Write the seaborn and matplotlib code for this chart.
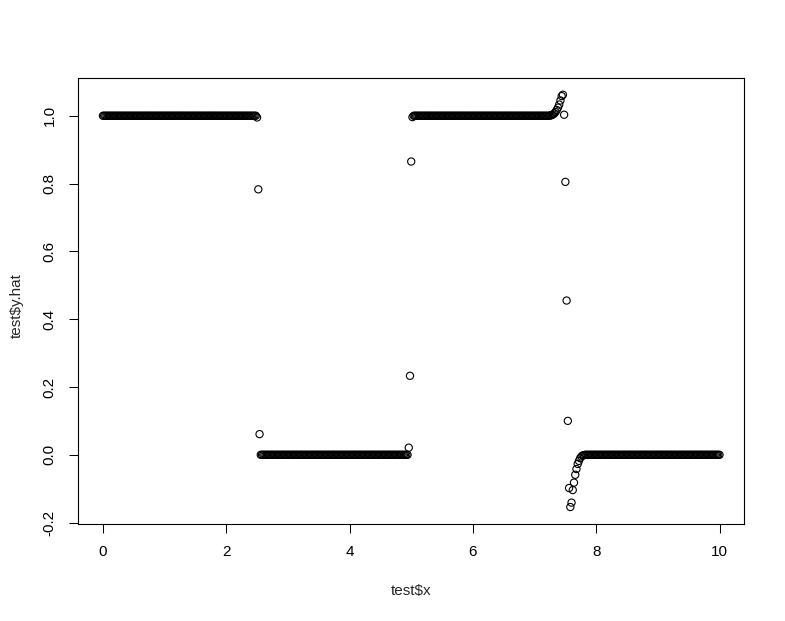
import numpy as np
import pandas as pd
import matplotlib
matplotlib.use('Agg')
import matplotlib.pyplot as plt
import seaborn as sns

sns.set_style('white')
plt.rcParams['font.family'] = ['Liberation Sans', 'DejaVu Sans']
plt.rcParams['axes.unicode_minus'] = False

# test grid step
x_step = 0.02

# flat parts of the prediction
seg_start = [0.0, 2.56, 5.04, 7.82]
seg_end = [2.48, 4.94, 7.24, 10.0]
seg_level = [1.0, 0.0, 1.0, 0.0]

# points around the jumps
jump1_x = [2.50, 2.52, 2.54]
jump1_y = [0.995, 0.783, 0.061]

jump2_x = [4.96, 4.98, 5.00, 5.02]
jump2_y = [0.021, 0.233, 0.865, 0.996]

jump3_x = [7.26, 7.28, 7.30, 7.32, 7.34, 7.36, 7.38, 7.40, 7.42, 7.44,
           7.46, 7.48, 7.50, 7.52, 7.54, 7.56, 7.58, 7.60, 7.62, 7.64,
           7.66, 7.68, 7.70, 7.72, 7.74, 7.76, 7.78, 7.80]
jump3_y = [1.001, 1.002, 1.004, 1.007, 1.011, 1.017, 1.024, 1.033, 1.045, 1.058,
           1.062, 1.003, 0.805, 0.455, 0.100, -0.098, -0.154, -0.141, -0.104, -0.082,
           -0.059, -0.042, -0.027, -0.018, -0.010, -0.005, -0.002, -0.001]

xs, ys = [], []
for a, b, lev in zip(seg_start, seg_end, seg_level):
    seg_x = np.round(np.arange(a, b + 1e-9, x_step), 2)
    xs.append(seg_x)
    ys.append(np.full(len(seg_x), lev))
for jx, jy in [(jump1_x, jump1_y), (jump2_x, jump2_y), (jump3_x, jump3_y)]:
    xs.append(np.array(jx))
    ys.append(np.array(jy))

test = pd.DataFrame({'x': np.concatenate(xs), 'y_hat': np.concatenate(ys)})
test = test.sort_values('x')

fig = plt.figure(figsize=(7.85, 6.21), dpi=100)
ax = fig.add_axes([0.0997, 0.157, 0.8483, 0.717])

sns.scatterplot(data=test, x='x', y='y_hat', ax=ax, marker='o', s=27,
                facecolors='none', edgecolor='black', linewidth=0.8)

# R style 4% padding
xr = test['x'].max() - test['x'].min()
yr = test['y_hat'].max() - test['y_hat'].min()
ax.set_xlim(test['x'].min() - 0.04 * xr, test['x'].max() + 0.04 * xr)
ax.set_ylim(test['y_hat'].min() - 0.04 * yr, test['y_hat'].max() + 0.04 * yr)

ax.set_xticks([0, 2, 4, 6, 8, 10])
ax.set_xticklabels(['0', '2', '4', '6', '8', '10'])
ax.set_yticks([-0.2, 0.0, 0.2, 0.4, 0.6, 0.8, 1.0])
ax.set_yticklabels(['-0.2', '0.0', '0.2', '0.4', '0.6', '0.8', '1.0'],
                   rotation=90, va='center')

ax.tick_params(axis='both', direction='out', length=6.5, width=0.75,
               color='black', labelsize=11, labelcolor='black', pad=9,
               bottom=True, left=True)
for sp in ax.spines.values():
    sp.set_color('black')
    sp.set_linewidth(0.8)

ax.set_xlabel('test\\$x', fontsize=11)
ax.set_ylabel('test\\$y.hat', fontsize=11)
ax.xaxis.set_label_coords(0.5, -0.152)
ax.xaxis.label.set_va('center')
ax.yaxis.set_label_coords(-0.092, 0.49)
ax.yaxis.label.set_va('center')

fig.savefig('out.png', dpi=100)
